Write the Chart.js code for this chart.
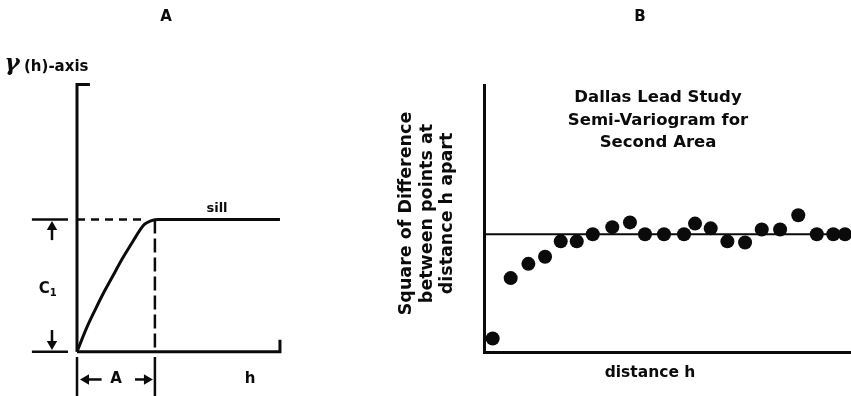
<!DOCTYPE html>
<html>
<head>
<meta charset="utf-8">
<script src="https://cdn.jsdelivr.net/npm/chart.js@4.4.0/dist/chart.umd.min.js"></script>
<style>
  body { margin: 0; background: #fff; }
  #wrap { position: relative; width: 851px; height: 396px; overflow: hidden; }
  #ModelChart { position: absolute; left: 0; top: 0; }
  #DallasChart { position: absolute; left: 330px; top: 0; }
</style>
</head>
<body>
<div id="wrap">
  <canvas id="ModelChart" width="330" height="396"></canvas>
  <canvas id="DallasChart" width="521" height="396"></canvas>
</div>
<script>
(function () {
  "use strict";

  // Panel A: idealised semi-variogram, range A and sill C1
  const model_h     = [0, 0.47, 0.88, 1.28, 1.74, 2.18, 2.67, 3.07, 3.30, 3.60, 4.00, 9.9];
  const model_gamma = [0, 0.18, 0.315, 0.44, 0.57, 0.695, 0.82, 0.92, 0.965, 0.99, 1.00, 1.00];
  const model_range = 3.8;
  const model_sill  = 1.0;
  const model_hmax  = 9.9;
  const model_gmax  = 2.02;

  // Panel B: Dallas lead study, second area
  const dallas_h  = [0.52, 1.60, 2.66, 3.66, 4.60, 5.56, 6.52, 7.69, 8.75, 9.65, 10.79,
                     11.99, 12.65, 13.59, 14.59, 15.65, 16.65, 17.75, 18.84, 19.95, 20.94, 21.64];
  const dallas_sq = [0.12, 0.63, 0.75, 0.81, 0.94, 0.94, 1.00, 1.06, 1.10, 1.00, 1.00,
                     1.00, 1.09, 1.05, 0.94, 0.93, 1.04, 1.04, 1.16, 1.00, 1.00, 1.00];
  const dallas_sill  = 1.0;
  const dallas_title = ['Dallas Lead Study', 'Semi-Variogram for', 'Second Area'];
  const dallas_ylab  = ['Square of Difference', 'between points at', 'distance h apart'];

  const ink  = '#0b0b0b';
  const face = '"DejaVu Sans", "Liberation Sans", sans-serif';

  Chart.defaults.font.family = face;
  Chart.defaults.color = ink;

  function pts(xs, ys) {
    return xs.map(function (x, i) { return { x: x, y: ys[i] }; });
  }

  // plain line piece drawn through the scales
  function seg(data, opts) {
    return Object.assign({
      data: data,
      showLine: true,
      pointRadius: 0,
      borderColor: ink,
      borderWidth: 3,
      clip: false,
      tension: 0
    }, opts || {});
  }

  // line piece with a triangular head on its last point
  function arrow(data, rot) {
    return seg(data, {
      borderWidth: 2.5,
      pointRadius: [0, 6],
      pointStyle: 'triangle',
      pointRotation: rot,
      pointBackgroundColor: ink,
      pointBorderWidth: 0
    });
  }

  function text(ctx, str, x, y, size, align) {
    ctx.save();
    ctx.font = 'bold ' + size + 'px ' + face;
    ctx.fillStyle = ink;
    ctx.textAlign = align || 'center';
    ctx.textBaseline = 'middle';
    ctx.fillText(str, x, y);
    ctx.restore();
  }

  // ---------------------------------------------------------------- A
  const lowH = -0.335;
  const modelLabels = {
    id: 'modelLabels',
    afterDraw: function (chart) {
      const ctx = chart.ctx;
      const sx = chart.scales.x, sy = chart.scales.y;
      const px = function (v) { return sx.getPixelForValue(v); };
      const py = function (v) { return sy.getPixelForValue(v); };

      text(ctx, 'A', 166, 17, 15);
      ctx.save();
      ctx.font = 'bold italic 23px "DejaVu Serif", serif';
      ctx.fillStyle = ink;
      ctx.textAlign = 'center';
      ctx.textBaseline = 'middle';
      ctx.fillText('γ', 12, 64);
      ctx.restore();
      text(ctx, '(h)-axis', 24, 67, 15, 'left');
      text(ctx, 'sill', px(6.83), py(model_sill) - 11, 13);
      text(ctx, 'C', px(-1.6), py(0.47), 15);
      text(ctx, '1', px(-1.6) + 9, py(0.47) + 4, 10);
      text(ctx, 'A', px(model_range / 2), py(-0.21), 15);
      text(ctx, 'h', px(8.44), py(-0.21), 15);
    }
  };

  const chart_model = document.getElementById('ModelChart');
  if (chart_model != null) {
    new Chart(chart_model.getContext('2d'), {
      type: 'scatter',
      data: {
        datasets: [
          // model curve
          seg(pts(model_h, model_gamma), { cubicInterpolationMode: 'monotone', borderWidth: 3 }),
          // axes
          seg([{ x: 0, y: 0 }, { x: 0, y: model_gmax }, { x: 0.63, y: model_gmax }]),
          seg([{ x: 0, y: -0.04 }, { x: 0, y: lowH }], { borderWidth: 2.5 }),
          seg([{ x: 0, y: 0 }, { x: model_hmax, y: 0 }, { x: model_hmax, y: 0.09 }]),
          // sill and range guides
          seg([{ x: 0, y: model_sill }, { x: 3.4, y: model_sill }], { borderWidth: 2.5, borderDash: [8, 6] }),
          seg([{ x: model_range, y: model_sill }, { x: model_range, y: 0 }], { borderWidth: 2.5, borderDash: [14, 5] }),
          seg([{ x: model_range, y: -0.04 }, { x: model_range, y: lowH }], { borderWidth: 2.5 }),
          // C1 bracket
          seg([{ x: -2.2, y: model_sill }, { x: -0.44, y: model_sill }], { borderWidth: 2.5 }),
          seg([{ x: -2.2, y: 0 }, { x: -0.44, y: 0 }], { borderWidth: 2.5 }),
          arrow([{ x: -1.22, y: 0.844 }, { x: -1.22, y: 0.943 }], 0),
          arrow([{ x: -1.22, y: 0.164 }, { x: -1.22, y: 0.058 }], 180),
          // A bracket
          arrow([{ x: 1.20, y: -0.21 }, { x: 0.44, y: -0.21 }], 270),
          arrow([{ x: 2.83, y: -0.21 }, { x: 3.41, y: -0.21 }], 90)
        ]
      },
      options: {
        responsive: false,
        animation: false,
        events: [],
        layout: { padding: 0, autoPadding: false },
        scales: {
          x: { type: 'linear', display: false, min: -3.756, max: 12.341 },
          y: { type: 'linear', display: false, min: lowH, max: 2.660 }
        },
        plugins: {
          legend: { display: false },
          tooltip: { enabled: false }
        }
      },
      plugins: [modelLabels]
    });
  }

  // ---------------------------------------------------------------- B
  const dallasLabels = {
    id: 'dallasLabels',
    afterDraw: function (chart) {
      const ctx = chart.ctx;
      text(ctx, 'B', 310, 17, 15);
      dallas_title.forEach(function (line, i) {
        text(ctx, line, 328, 98 + i * 22.5, 16.5);
      });
      dallas_ylab.forEach(function (line, i) {
        ctx.save();
        ctx.translate(76.7 + i * 20.3, 213.5);
        ctx.rotate(-Math.PI / 2);
        text(ctx, line, 0, 0, 17.5);
        ctx.restore();
      });
      text(ctx, 'distance h', 320, 373, 15.5);
    }
  };

  const chart_dallas = document.getElementById('DallasChart');
  if (chart_dallas != null) {
    new Chart(chart_dallas.getContext('2d'), {
      type: 'scatter',
      data: {
        datasets: [
          seg([{ x: 0, y: dallas_sill }, { x: 22, y: dallas_sill }], { borderWidth: 2 }),
          {
            data: pts(dallas_h, dallas_sq),
            pointRadius: 7,
            pointBackgroundColor: ink,
            pointBorderWidth: 0,
            showLine: false,
            clip: false
          }
        ]
      },
      options: {
        responsive: false,
        animation: false,
        events: [],
        layout: { padding: { left: 154, top: 85, right: 0, bottom: 43.3 }, autoPadding: false },
        scales: {
          x: {
            type: 'linear', min: 0, max: 22,
            ticks: { display: false },
            grid: { display: false, drawTicks: false },
            border: { color: ink, width: 3 }
          },
          y: {
            type: 'linear', min: 0, max: 2.26,
            ticks: { display: false },
            grid: { display: false, drawTicks: false },
            border: { color: ink, width: 3 }
          }
        },
        plugins: {
          legend: { display: false },
          tooltip: { enabled: false }
        }
      },
      plugins: [dallasLabels]
    });
  }
})();
</script>
</body>
</html>
